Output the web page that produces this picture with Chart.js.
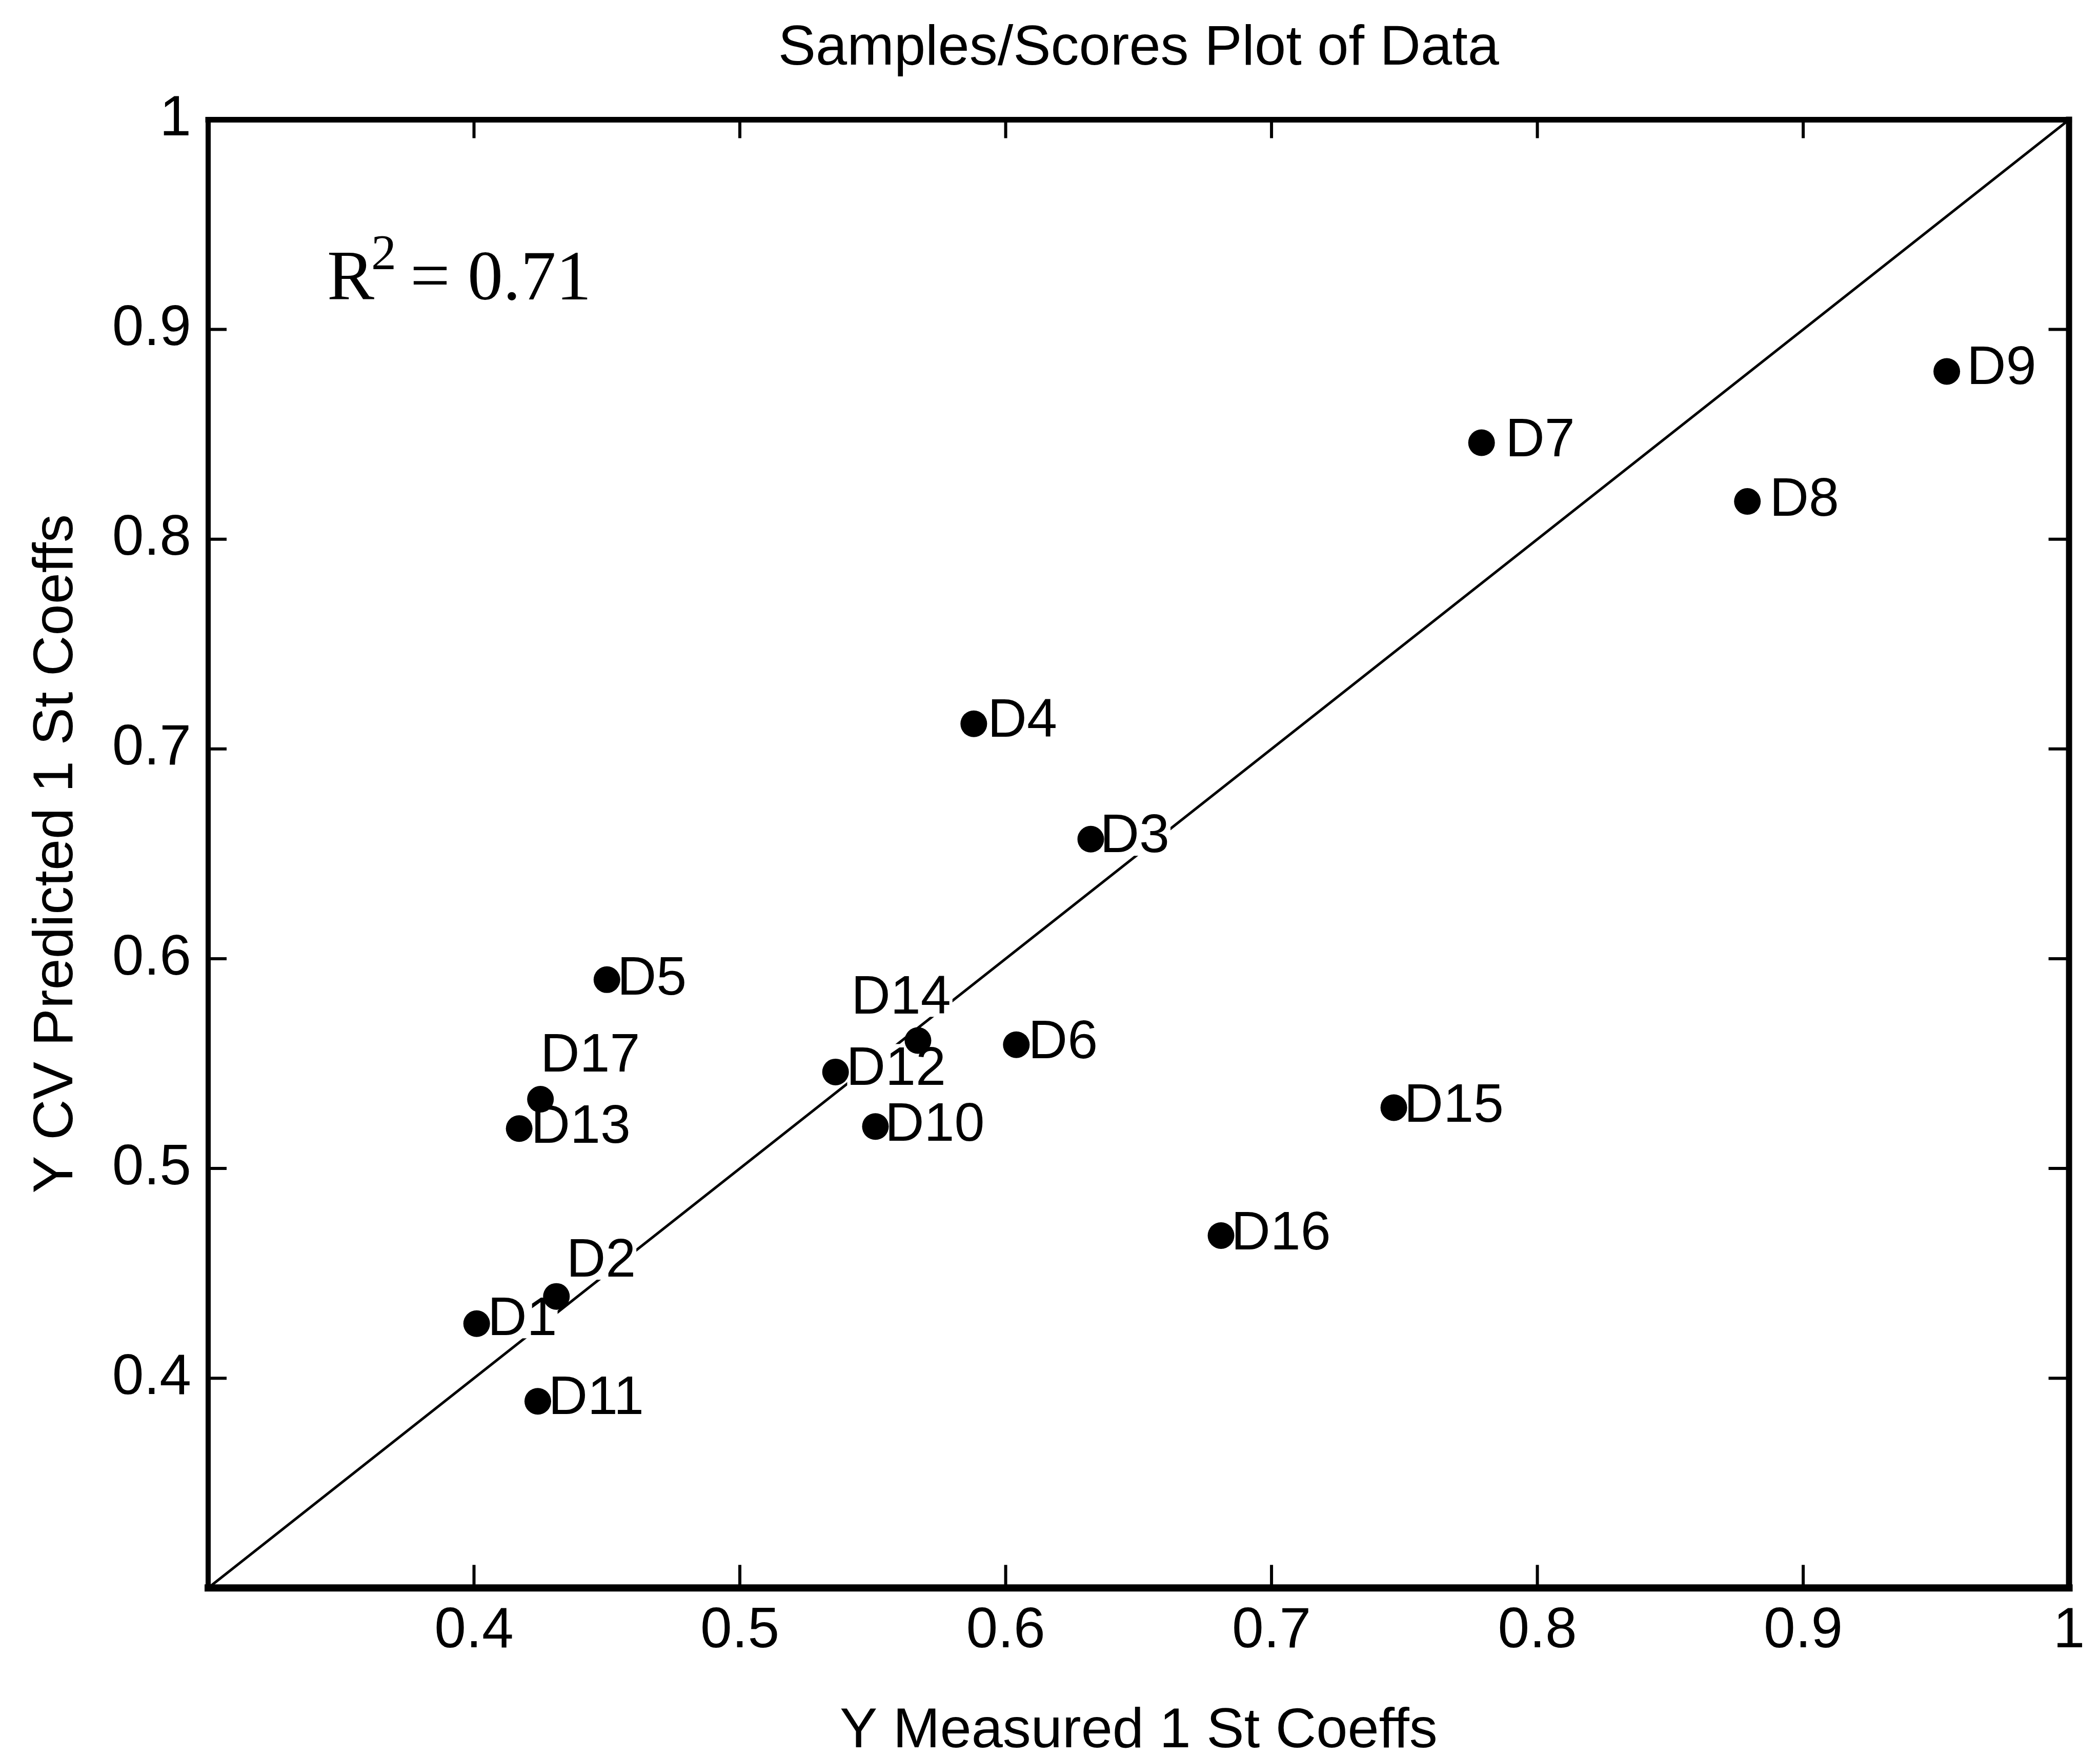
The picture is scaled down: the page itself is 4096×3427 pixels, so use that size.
<!DOCTYPE html>
<html>
<head>
<meta charset="utf-8">
<style>
html,body{margin:0;padding:0;background:#fff;overflow:hidden;}
canvas{display:block;}
</style>
<script src="https://cdn.jsdelivr.net/npm/chart.js@4.4.1/dist/chart.umd.min.js"></script>
</head>
<body>
<canvas id="c" width="4096" height="3427"></canvas>
<script>
// ---- data ----
const sampleNames = ['D1','D2','D3','D4','D5','D6','D7','D8','D9','D10','D11','D12','D13','D14','D15','D16','D17'];
const measuredValues  = [0.401,0.431,0.632,0.588,0.450,0.604,0.779,0.879,0.954,0.551,0.424,0.536,0.417,0.567,0.746,0.681,0.425];
const predictedValues = [0.426,0.439,0.657,0.712,0.590,0.559,0.846,0.818,0.880,0.520,0.389,0.546,0.519,0.561,0.529,0.468,0.533];
const tickValues = [0.4,0.5,0.6,0.7,0.8,0.9,1];
const identityLine = [0.3, 1];
const rSquared = 0.71;

// ---- styling / placement (not data) ----
const SANS = "'Liberation Sans', Arial, Helvetica, sans-serif";
const SERIF = "'Liberation Serif', 'Times New Roman', serif";
const LABEL_FONT = 106;
const defaultOffset = [28.7, -11.8];
const labelOffsets = {
  D9:[47,-13], D7:[54.6,-11.5], D8:[51.2,-10.4], D4:[35,-12.8], D3:[26,-12.5],
  D6:[31.3,-11.2], D15:[28,-10.5], D16:[27.7,-10.7], D5:[28,-8.9], D12:[28.7,-12.5],
  D10:[26.4,-10.4], D13:[30.8,-9.9], D11:[28.5,-13], D1:[29.3,-15.4],
  D2:[27.4,-76.5], D14:[-122.2,-90.1], D17:[7.8,-92.5]
};

const labelPlugin = {
  id: 'pointLabels',
  afterDatasetDraw(chart, args) {
    if (args.index !== 1) return; // after the identity line, before the dots
    const ctx = chart.ctx;
    const meta = chart.getDatasetMeta(0);
    ctx.save();
    ctx.font = LABEL_FONT + 'px ' + SANS;
    ctx.textBaseline = 'alphabetic';
    ctx.textAlign = 'left';
    meta.data.forEach((pt, i) => {
      const name = sampleNames[i];
      const off = labelOffsets[name] || defaultOffset;
      const tx = pt.x + off[0] - 8;
      const by = pt.y + off[1] + 0.358 * LABEL_FONT;
      const m = ctx.measureText(name);
      const pad = 6;
      ctx.fillStyle = '#fff';
      ctx.fillRect(tx - m.actualBoundingBoxLeft - pad, by - m.actualBoundingBoxAscent - pad,
                   m.actualBoundingBoxLeft + m.actualBoundingBoxRight + 2 * pad,
                   m.actualBoundingBoxAscent + m.actualBoundingBoxDescent + 2 * pad);
      ctx.fillStyle = '#000';
      ctx.fillText(name, tx, by);
    });
    ctx.restore();
  }
};

const framePlugin = {
  id: 'frame',
  afterDraw(chart) {
    const ctx = chart.ctx;
    const {left, right, top, bottom} = chart.chartArea;
    const xs = chart.scales.x, ys = chart.scales.y;
    ctx.save();
    ctx.strokeStyle = '#000';
    ctx.lineCap = 'square';
    const seg = (x1, y1, x2, y2, w) => { ctx.lineWidth = w; ctx.beginPath(); ctx.moveTo(x1, y1); ctx.lineTo(x2, y2); ctx.stroke(); };
    ctx.lineCap = 'butt';
    tickValues.filter(v => v < 1).forEach(v => {
      const px = xs.getPixelForValue(v);
      seg(px, bottom, px, bottom - 45, 6);
      seg(px, top, px, top + 36, 6);
      const py = ys.getPixelForValue(v);
      seg(left, py, left + 36, py, 6);
      seg(right, py, right - 40, py, 6);
    });
    ctx.lineCap = 'square';
    seg(left, top, right, top, 11);
    seg(left, top, left, bottom, 10);
    seg(right, top, right, bottom, 12);
    seg(left, bottom, right, bottom, 14);

    // R^2 annotation
    ctx.fillStyle = '#000';
    ctx.textBaseline = 'alphabetic';
    ctx.textAlign = 'left';
    const base = top + 350.3;
    ctx.font = '138px ' + SERIF;
    ctx.fillText('R', left + 232, base);
    ctx.font = '98px ' + SERIF;
    ctx.fillText('2', left + 318, top + 291.5);
    ctx.font = '138px ' + SERIF;
    ctx.fillText('=', left + 394, base);
    ctx.fillText(rSquared.toFixed(2), left + 506, base);
    ctx.restore();
  }
};

const tickFont = {family: SANS, size: 111, weight: 'normal', lineHeight: 1.0};
const titleFont = {family: SANS, size: 110, weight: 'normal', lineHeight: 0.9};
const fmt = v => (v === 1 ? '1' : Number(v).toFixed(1));

new Chart(document.getElementById('c'), {
  type: 'scatter',
  data: {
    datasets: [
      {
        label: 'Samples',
        data: sampleNames.map((n, i) => ({x: measuredValues[i], y: predictedValues[i]})),
        backgroundColor: '#000',
        borderWidth: 0,
        pointRadius: 26,
        pointHoverRadius: 26,
        showLine: false,
        order: 1
      },
      {
        label: 'y = x',
        data: identityLine.map(v => ({x: v, y: v})),
        borderColor: '#000',
        borderWidth: 5,
        pointRadius: 0,
        showLine: true,
        fill: false,
        order: 2
      }
    ]
  },
  options: {
    responsive: false,
    animation: false,
    devicePixelRatio: 1,
    layout: {padding: {left: 0, right: 34, top: 0, bottom: 0}},
    plugins: {
      legend: {display: false},
      tooltip: {enabled: false},
      title: {
        display: true,
        text: 'Samples/Scores Plot of Data',
        color: '#000',
        fullSize: false,
        font: {family: SANS, size: 110, weight: 'normal', lineHeight: 1.0},
        padding: {top: 40.7, bottom: 82.8}
      }
    },
    scales: {
      x: {
        type: 'linear',
        min: 0.3, max: 1,
        afterBuildTicks: s => { s.ticks = tickValues.map(v => ({value: v})); },
        afterFit: s => { s.height = 329.7; },
        ticks: {callback: fmt, font: tickFont, color: '#000', padding: 29.5, autoSkip: false, maxRotation: 0},
        grid: {display: false, drawTicks: false},
        border: {display: false},
        title: {display: true, text: 'Y Measured 1 St Coeffs', color: '#000', font: titleFont, padding: {top: 0, bottom: 0}}
      },
      y: {
        type: 'linear',
        min: 0.3, max: 1,
        afterBuildTicks: s => { s.ticks = tickValues.map(v => ({value: v})); },
        afterFit: s => { s.width = 406; },
        ticks: {callback: fmt, font: tickFont, color: '#000', padding: 33, autoSkip: false},
        grid: {display: false, drawTicks: false},
        border: {display: false},
        title: {display: true, text: 'Y CV Predicted 1 St Coeffs', color: '#000', font: titleFont, padding: {top: 61, bottom: 0}}
      }
    }
  },
  plugins: [labelPlugin, framePlugin]
});
</script>
</body>
</html>
